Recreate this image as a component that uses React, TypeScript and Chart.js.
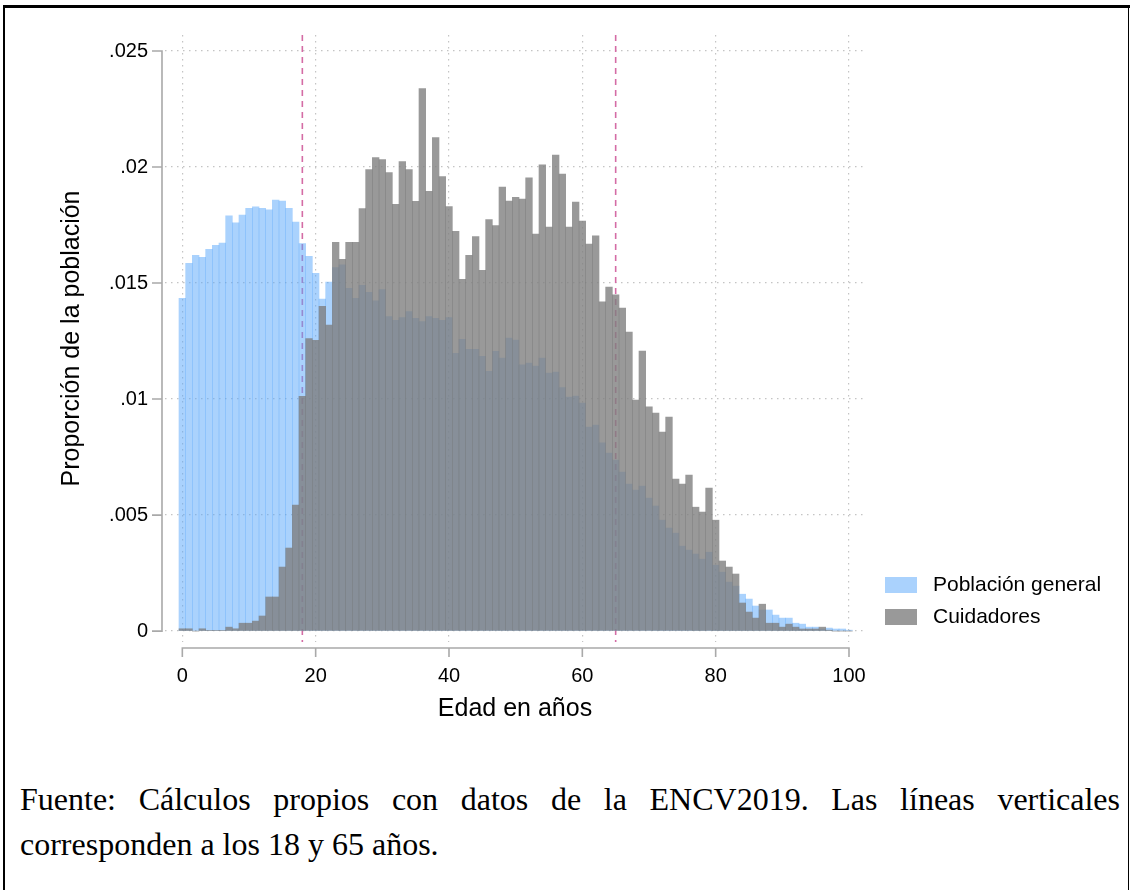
import React, { useEffect, useRef } from "react";
import { Chart, registerables } from "chart.js";

Chart.register(...registerables);

// ---- Data ----
const AGES = [
  0, 1, 2, 3, 4, 5, 6, 7, 8, 9, 10, 11, 12, 13, 14, 15, 16, 17, 18, 19, 20,
  21, 22, 23, 24, 25, 26, 27, 28, 29, 30, 31, 32, 33, 34, 35, 36, 37, 38, 39, 40,
  41, 42, 43, 44, 45, 46, 47, 48, 49, 50, 51, 52, 53, 54, 55, 56, 57, 58, 59, 60,
  61, 62, 63, 64, 65, 66, 67, 68, 69, 70, 71, 72, 73, 74, 75, 76, 77, 78, 79, 80,
  81, 82, 83, 84, 85, 86, 87, 88, 89, 90, 91, 92, 93, 94, 95, 96, 97, 98, 99, 100,
];

const POBLACION_GENERAL = [
  0.01434, 0.01585, 0.01619, 0.01611, 0.01645, 0.01662, 0.01672, 0.0179, 0.0176, 0.01793,
  0.01822, 0.01828, 0.01822, 0.01816, 0.01858, 0.01853, 0.01822, 0.01763, 0.0167, 0.01615,
  0.01542, 0.01431, 0.01504, 0.01567, 0.01579, 0.01477, 0.01434, 0.0149, 0.0146, 0.01423,
  0.01472, 0.01356, 0.01339, 0.01351, 0.01377, 0.01348, 0.01334, 0.01356, 0.01348, 0.01339,
  0.01351, 0.01197, 0.01257, 0.01214, 0.01214, 0.01184, 0.0112, 0.01206, 0.01177, 0.01263,
  0.01254, 0.01147, 0.01155, 0.01142, 0.01177, 0.01112, 0.01116, 0.01049, 0.01009, 0.01013,
  0.00983, 0.00879, 0.00888, 0.00811, 0.00767, 0.00737, 0.00685, 0.00634, 0.00608, 0.00625,
  0.00573, 0.00539, 0.00478, 0.00444, 0.00422, 0.00366, 0.00349, 0.00332, 0.0031, 0.0034,
  0.00284, 0.00254, 0.00211, 0.00194, 0.00159, 0.00138, 0.00108, 0.00091, 0.00091, 0.00069,
  0.00056, 0.00056, 0.00034, 0.0003, 0.00017, 0.00017, 0.00009, 0.00013, 0.00009, 0.00009,
  0.00004,
];

const CUIDADORES = [
  0.0001, 0.0001, 0.0, 0.0001, 0.00003, 0.00003, 0.00003, 0.00017, 0.0001, 0.00034,
  0.00034, 0.00043, 0.00065, 0.00147, 0.00147, 0.00276, 0.00358, 0.00543, 0.01012, 0.01261,
  0.01253, 0.014, 0.01319, 0.01676, 0.01602, 0.01676, 0.01675, 0.01821, 0.01989, 0.02041,
  0.02032, 0.01976, 0.01839, 0.02024, 0.01989, 0.01852, 0.02338, 0.01895, 0.02127, 0.01959,
  0.01829, 0.01723, 0.01516, 0.01619, 0.017, 0.01555, 0.01774, 0.01748, 0.01914, 0.01853,
  0.01869, 0.01862, 0.01953, 0.01711, 0.02009, 0.01741, 0.02052, 0.0197, 0.01741, 0.01849,
  0.01767, 0.01668, 0.01703, 0.01419, 0.01483, 0.01449, 0.01392, 0.01289, 0.00996, 0.01207,
  0.00966, 0.0094, 0.00858, 0.00922, 0.00655, 0.00634, 0.00672, 0.00534, 0.00513, 0.00616,
  0.00478, 0.00302, 0.00276, 0.00246, 0.00121, 0.00082, 0.00056, 0.00116, 0.00034, 0.00034,
  0.00017, 0.0003, 0.00017, 0.00009, 0.00009, 0.00009, 0.00017, 0.00004, 0.0, 0.0,
  0.0,
];

const SERIES_LABELS = ["Población general", "Cuidadores"];
const X_TICKS = [0, 20, 40, 60, 80, 100];
const Y_TICKS = [0, 0.005, 0.01, 0.015, 0.02, 0.025];
const Y_TICK_LABELS = ["0", ".005", ".01", ".015", ".02", ".025"];
const REF_LINES = [18, 65];
const X_TITLE = "Edad en años";
const Y_TITLE = "Proporción de la población";
const CAPTION_LINE1 =
  "Fuente: Cálculos propios con datos de la ENCV2019. Las líneas verticales";
const CAPTION_LINE2 = "corresponden a los 18 y 65 años.";

// ---- Styles ----
const BLUE = "rgba(86,166,252,0.5)";
const BLUE_SWATCH = "rgb(170,210,253)";
const GRAY = "rgba(126,126,126,0.79)";
const GRAY_SWATCH = "rgb(153,153,153)";
const REF_COLOR = "rgb(212,108,165)";
const AXIS_COLOR = "#a9a9a9";
const GRID_COLOR = "#c4c4c4";
const SANS = "'Liberation Sans', Arial, Helvetica, sans-serif";

const stataExtras = {
  id: "stataExtras",
  beforeDatasetsDraw(chart: any) {
    const { ctx, chartArea, scales } = chart;
    const x = scales.x;
    ctx.save();
    ctx.strokeStyle = REF_COLOR;
    ctx.lineWidth = 1.6;
    ctx.setLineDash([6, 5]);
    for (const v of REF_LINES) {
      const px = x.getPixelForValue(v);
      ctx.beginPath();
      ctx.moveTo(px, chartArea.top);
      ctx.lineTo(px, chartArea.bottom);
      ctx.stroke();
    }
    ctx.restore();
  },
  afterDraw(chart: any) {
    const { ctx, chartArea, scales } = chart;
    const x = scales.x;
    const y = scales.y;
    ctx.save();
    ctx.strokeStyle = AXIS_COLOR;
    ctx.lineWidth = 1.6;
    ctx.setLineDash([]);
    // y axis
    const ax = chartArea.left - 3;
    ctx.beginPath();
    ctx.moveTo(ax, y.getPixelForValue(Y_TICKS[0]));
    ctx.lineTo(ax, y.getPixelForValue(Y_TICKS[Y_TICKS.length - 1]));
    for (const t of Y_TICKS) {
      const py = y.getPixelForValue(t);
      ctx.moveTo(ax + 0.8, py);
      ctx.lineTo(ax - 10, py);
    }
    ctx.stroke();
    // x axis
    const ay = chartArea.bottom + 6;
    ctx.beginPath();
    ctx.moveTo(x.getPixelForValue(X_TICKS[0]), ay);
    ctx.lineTo(x.getPixelForValue(X_TICKS[X_TICKS.length - 1]), ay);
    for (const t of X_TICKS) {
      const px = x.getPixelForValue(t);
      ctx.moveTo(px, ay - 0.8);
      ctx.lineTo(px, ay + 9);
    }
    ctx.stroke();

    // legend
    const swatches = [BLUE_SWATCH, GRAY_SWATCH];
    const lx = chartArea.right + 20;
    const ly = 577;
    ctx.font = `21px ${SANS}`;
    ctx.textBaseline = "middle";
    ctx.textAlign = "left";
    chart.data.datasets.forEach((ds: any, i: number) => {
      const top = ly + i * 32;
      ctx.fillStyle = swatches[i];
      ctx.fillRect(lx, top, 32, 16);
      ctx.fillStyle = "#000";
      ctx.fillText(ds.label, lx + 48, top + 8);
    });
    ctx.restore();
  },
};

function App() {
  const ref = useRef<HTMLCanvasElement | null>(null);

  useEffect(() => {
    if (!ref.current) return;
    const chart = new Chart(ref.current, {
      type: "bar",
      data: {
        datasets: [
          {
            label: SERIES_LABELS[0],
            data: AGES.map((a, i) => ({ x: a, y: POBLACION_GENERAL[i] })),
            backgroundColor: BLUE,
            borderWidth: 0,
            grouped: false,
            order: 2,
            barPercentage: 1,
            categoryPercentage: 1,
          },
          {
            label: SERIES_LABELS[1],
            data: AGES.map((a, i) => ({ x: a, y: CUIDADORES[i] })),
            backgroundColor: GRAY,
            borderWidth: 0,
            grouped: false,
            order: 1,
            barPercentage: 1,
            categoryPercentage: 1,
          },
        ] as any,
      },
      options: {
        animation: false,
        responsive: false,
        maintainAspectRatio: false,
        layout: { padding: { left: 0, right: 265, top: 35, bottom: 0 } },
        plugins: {
          legend: { display: false },
          tooltip: { enabled: false },
          title: { display: false },
        },
        scales: {
          x: {
            type: "linear",
            min: -2.6,
            max: 102.4,
            offset: false,
            afterBuildTicks: (s: any) => {
              s.ticks = X_TICKS.map((v) => ({ value: v }));
            },
            afterFit: (s: any) => {
              s.height = 98;
            },
            ticks: {
              color: "#000",
              font: { family: SANS, size: 20 },
              padding: 22,
              maxRotation: 0,
              autoSkip: false,
              callback: (v: any) => String(v),
            },
            grid: {
              offset: false,
              drawTicks: false,
              color: GRID_COLOR,
              lineWidth: 1.2,
            },
            border: { display: false, dash: [1.5, 4.5] },
            title: {
              display: true,
              text: X_TITLE,
              color: "#000",
              font: { family: SANS, size: 25 },
              padding: { top: 0, bottom: 16 },
            },
          },
          y: {
            type: "linear",
            min: -0.00047,
            max: 0.02569,
            afterBuildTicks: (s: any) => {
              s.ticks = Y_TICKS.map((v) => ({ value: v }));
            },
            afterFit: (s: any) => {
              s.width = 165;
            },
            ticks: {
              color: "#000",
              font: { family: SANS, size: 20 },
              padding: 17,
              autoSkip: false,
              callback: (v: any) => {
                const idx = Y_TICKS.findIndex((t) => Math.abs(t - v) < 1e-9);
                return idx >= 0 ? Y_TICK_LABELS[idx] : "";
              },
            },
            grid: {
              drawTicks: false,
              color: GRID_COLOR,
              lineWidth: 1.2,
            },
            border: { display: false, dash: [1.5, 4.5] },
            title: {
              display: true,
              text: Y_TITLE,
              color: "#000",
              font: { family: SANS, size: 25 },
              padding: { top: 57, bottom: 0 },
            },
          },
        },
      } as any,
      plugins: [stataExtras],
    });
    return () => chart.destroy();
  }, []);

  return (
    <div
      style={{
        position: "absolute",
        left: 0,
        top: 0,
        width: 1130,
        height: 890,
        background: "#fff",
        overflow: "hidden",
      }}
    >
      <div style={{ position: "absolute", left: 3, top: 5, width: 1127, height: 3, background: "#000" }} />
      <div style={{ position: "absolute", left: 3, top: 5, width: 2, height: 885, background: "#000" }} />
      <div style={{ position: "absolute", left: 1128, top: 5, width: 1, height: 885, background: "#000" }} />
      <canvas
        ref={ref}
        width={1130}
        height={740}
        style={{ position: "absolute", left: 0, top: 0, width: 1130, height: 740 }}
      />
      <div
        style={{
          position: "absolute",
          left: 20,
          top: 777,
          width: 1100,
          fontFamily: "'Liberation Serif', 'Times New Roman', serif",
          fontSize: 32,
          lineHeight: "45px",
          color: "#000",
        }}
      >
        <div style={{ textAlign: "justify", textAlignLast: "justify" as any }}>{CAPTION_LINE1}</div>
        <div style={{ textAlign: "left" }}>{CAPTION_LINE2}</div>
      </div>
    </div>
  );
}

export default App;
